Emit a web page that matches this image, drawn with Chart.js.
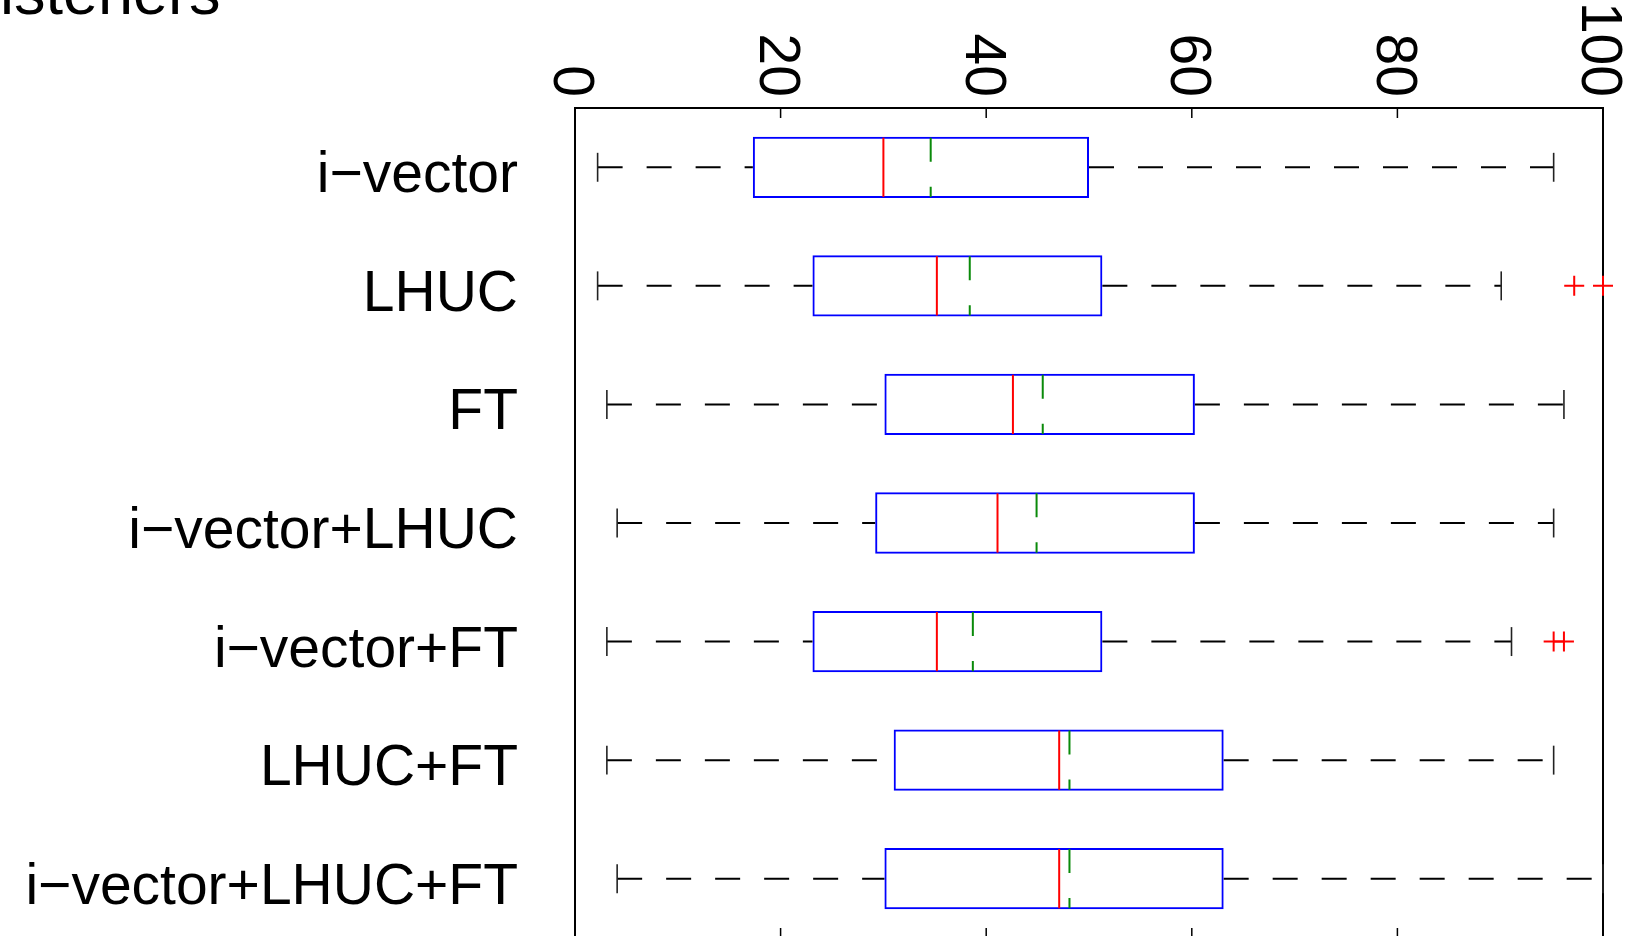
<!DOCTYPE html>
<html>
<head>
<meta charset="utf-8">
<script src="https://cdn.jsdelivr.net/npm/chart.js@4"></script>
<style>
  html, body { margin: 0; padding: 0; background: #ffffff; overflow: hidden; }
  #wrap { width: 1629px; height: 936px; overflow: hidden; }
  canvas { display: block; }
</style>
</head>
<body>
<div id="wrap"><canvas id="c" width="1629" height="960"></canvas></div>
<script>
// ---- data ----
const categories = ['i−vector', 'LHUC', 'FT', 'i−vector+LHUC', 'i−vector+FT', 'LHUC+FT', 'i−vector+LHUC+FT'];
const lowerWhisker = [2.2, 2.2, 3.1, 4.1, 3.1, 3.1, 4.1];
const q1Values     = [17.3, 23.1, 30.1, 29.2, 23.1, 31.0, 30.1];
const medianValues = [30.0, 35.2, 42.6, 41.1, 35.2, 47.1, 47.1];
const meanValues   = [34.6, 38.4, 45.5, 44.9, 38.7, 48.1, 48.1];
const q3Values     = [50.0, 51.3, 60.3, 60.3, 51.3, 63.1, 63.1];
const upperWhisker = [95.2, 90.1, 96.2, 95.2, 91.1, 95.2, 100];
const outlierCats  = ['LHUC', 'LHUC', 'i−vector+FT', 'i−vector+FT'];
const outlierVals  = [97.2, 100, 95.2, 96.2];
const xTicks = [0, 20, 40, 60, 80, 100];
const titleText = 'isteners';

const FONT = '"Liberation Sans", Arial, Helvetica, sans-serif';

const boxPlugin = {
  id: 'boxExtras',
  beforeDatasetsDraw(chart) {
    const ctx = chart.ctx;
    const a = chart.chartArea;
    const xs = chart.scales.x;
    ctx.save();
    // frame
    ctx.strokeStyle = '#000000';
    ctx.lineWidth = 2;
    ctx.strokeRect(a.left, a.top, a.right - a.left, a.bottom - a.top);
    // inner ticks on top and bottom
    ctx.lineWidth = 1.5;
    xTicks.forEach(t => {
      const px = xs.getPixelForValue(t);
      ctx.beginPath();
      ctx.moveTo(px, a.top);
      ctx.lineTo(px, a.top + 10);
      ctx.moveTo(px, a.bottom);
      ctx.lineTo(px, a.bottom - 10);
      ctx.stroke();
    });
    ctx.restore();
  },
  afterDatasetsDraw(chart) {
    const ctx = chart.ctx;
    const xs = chart.scales.x, ys = chart.scales.y;
    const step = ys.getPixelForValue(1) - ys.getPixelForValue(0);
    const half = step * 0.25;
    const capHalf = step * 0.122;
    ctx.save();
    categories.forEach((c, i) => {
      const yc = ys.getPixelForValue(i);
      // whiskers
      ctx.strokeStyle = '#000000';
      ctx.lineWidth = 2;
      ctx.setLineDash([25, 24]);
      ctx.beginPath();
      ctx.moveTo(xs.getPixelForValue(lowerWhisker[i]), yc);
      ctx.lineTo(xs.getPixelForValue(q1Values[i]), yc);
      ctx.stroke();
      ctx.beginPath();
      ctx.moveTo(xs.getPixelForValue(q3Values[i]), yc);
      ctx.lineTo(xs.getPixelForValue(upperWhisker[i]), yc);
      ctx.stroke();
      // caps
      ctx.setLineDash([]);
      ctx.lineWidth = 1.6;
      ctx.strokeStyle = '#222222';
      [lowerWhisker[i], upperWhisker[i]].forEach(v => {
        const px = xs.getPixelForValue(v);
        ctx.beginPath();
        ctx.moveTo(px, yc - capHalf);
        ctx.lineTo(px, yc + capHalf);
        ctx.stroke();
      });
      // median
      ctx.strokeStyle = '#ff0000';
      ctx.lineWidth = 2;
      const mx = xs.getPixelForValue(medianValues[i]);
      ctx.beginPath();
      ctx.moveTo(mx, yc - half);
      ctx.lineTo(mx, yc + half);
      ctx.stroke();
      // mean (dashed green)
      ctx.strokeStyle = '#0a8a0a';
      ctx.setLineDash([24, 25]);
      const ax = xs.getPixelForValue(meanValues[i]);
      ctx.beginPath();
      ctx.moveTo(ax, yc - half);
      ctx.lineTo(ax, yc + half);
      ctx.stroke();
      ctx.setLineDash([]);
    });
    ctx.restore();
  },
  afterDraw(chart) {
    const ctx = chart.ctx;
    const a = chart.chartArea;
    const xs = chart.scales.x, ys = chart.scales.y;
    ctx.save();
    // rotated tick labels (clockwise, reading downward, ending near the axis)
    const fs = 57;
    ctx.fillStyle = '#000000';
    ctx.font = fs + 'px ' + FONT;
    xTicks.forEach(t => {
      const px = xs.getPixelForValue(t);
      ctx.save();
      ctx.translate(px, a.top - 11);
      ctx.rotate(Math.PI / 2);
      ctx.textAlign = 'right';
      ctx.textBaseline = 'alphabetic';
      ctx.fillText(String(t), 0, 0.36 * fs);
      ctx.restore();
    });
    // category labels
    ctx.textAlign = 'right';
    ctx.textBaseline = 'alphabetic';
    categories.forEach((c, i) => {
      const yc = ys.getPixelForValue(i);
      ctx.fillText(c, a.left - 57, yc + 25);
    });
    // clipped title
    ctx.font = '63px ' + FONT;
    ctx.textAlign = 'left';
    ctx.fillText(titleText, 0, 14);
    ctx.restore();
  }
};

new Chart(document.getElementById('c'), {
  type: 'bar',
  data: {
    labels: categories,
    datasets: [
      {
        type: 'bar',
        data: q1Values.map((v, i) => [v, q3Values[i]]),
        backgroundColor: 'rgba(0,0,0,0)',
        borderColor: '#0000ff',
        borderWidth: 2,
        borderSkipped: false,
        categoryPercentage: 1.0,
        barPercentage: 0.517,
        order: 2
      },
      {
        type: 'scatter',
        data: outlierVals.map((v, i) => ({ x: v, y: outlierCats[i] })),
        pointStyle: 'cross',
        pointRadius: 10,
        borderColor: '#ff0000',
        backgroundColor: '#ff0000',
        borderWidth: 2,
        clip: false,
        order: 1
      }
    ]
  },
  options: {
    indexAxis: 'y',
    responsive: false,
    animation: false,
    events: [],
    layout: { padding: { left: 575, right: 26, top: 108, bottom: 22 } },
    plugins: { legend: { display: false }, tooltip: { enabled: false }, title: { display: false } },
    scales: {
      x: { type: 'linear', min: 0, max: 100, display: false, grid: { display: false } },
      y: { type: 'category', labels: categories, offset: true, display: false, grid: { display: false } }
    }
  },
  plugins: [boxPlugin]
});
</script>
</body>
</html>
